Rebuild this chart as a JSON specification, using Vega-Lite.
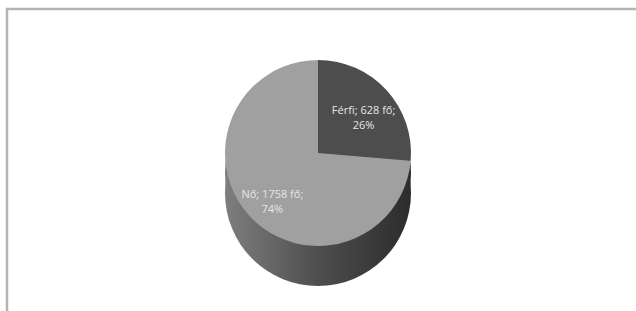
{
  "$schema": "https://vega.github.io/schema/vega-lite/v6.json",
  "width": 660,
  "height": 304,
  "padding": {"left": 7, "top": 9, "right": 0, "bottom": 0},
  "background": "white",
  "view": {"stroke": "#b4b4b4", "strokeWidth": 2.5, "fill": "white"},
  "data": {"values": [
    {"nem": "Férfi", "fo": 628},
    {"nem": "Nő", "fo": 1758}
  ]},
  "transform": [
    {"joinaggregate": [{"op": "sum", "field": "fo", "as": "total"}]},
    {"calculate": "[datum.nem + '; ' + datum.fo + ' fő;', format(datum.fo / datum.total, '.0%')]", "as": "label"}
  ],
  "layer": [
    {
      "mark": {
        "type": "arc",
        "radius": 93,
        "xOffset": -19,
        "yOffset": 32,
        "color": {
          "x1": 0, "x2": 1, "y1": 0, "y2": 0,
          "gradient": "linear",
          "stops": [
            {"offset": 0, "color": "#7e7e7e"},
            {"offset": 0.5, "color": "#4e4e4e"},
            {"offset": 1, "color": "#2c2c2c"}
          ]
        }
      },
      "encoding": {
        "theta": {"aggregate": "sum", "field": "fo", "type": "quantitative"}
      }
    },
    {
      "mark": {
        "type": "arc",
        "radius": 93,
        "xOffset": -19,
        "yOffset": 12,
        "color": {
          "x1": 0, "x2": 1, "y1": 0, "y2": 0,
          "gradient": "linear",
          "stops": [
            {"offset": 0, "color": "#7e7e7e"},
            {"offset": 0.5, "color": "#4e4e4e"},
            {"offset": 1, "color": "#2c2c2c"}
          ]
        }
      },
      "encoding": {
        "theta": {"aggregate": "sum", "field": "fo", "type": "quantitative"}
      }
    },
    {
      "mark": {"type": "arc", "radius": 93, "xOffset": -19, "yOffset": -8},
      "encoding": {
        "theta": {"field": "fo", "type": "quantitative", "stack": true},
        "order": {"field": "nem", "sort": "ascending"},
        "color": {
          "field": "nem",
          "type": "nominal",
          "scale": {"domain": ["Férfi", "Nő"], "range": ["#4d4d4d", "#a0a0a0"]},
          "legend": null
        }
      }
    },
    {
      "mark": {
        "type": "text",
        "radius": 62,
        "xOffset": -19,
        "yOffset": -8,
        "font": "Open Sans",
        "fontSize": 11,
        "lineHeight": 15,
        "fill": "#e6e6e6",
        "align": "center",
        "baseline": "middle"
      },
      "encoding": {
        "theta": {"field": "fo", "type": "quantitative", "stack": true},
        "order": {"field": "nem", "sort": "ascending"},
        "text": {"field": "label"}
      }
    }
  ]
}
